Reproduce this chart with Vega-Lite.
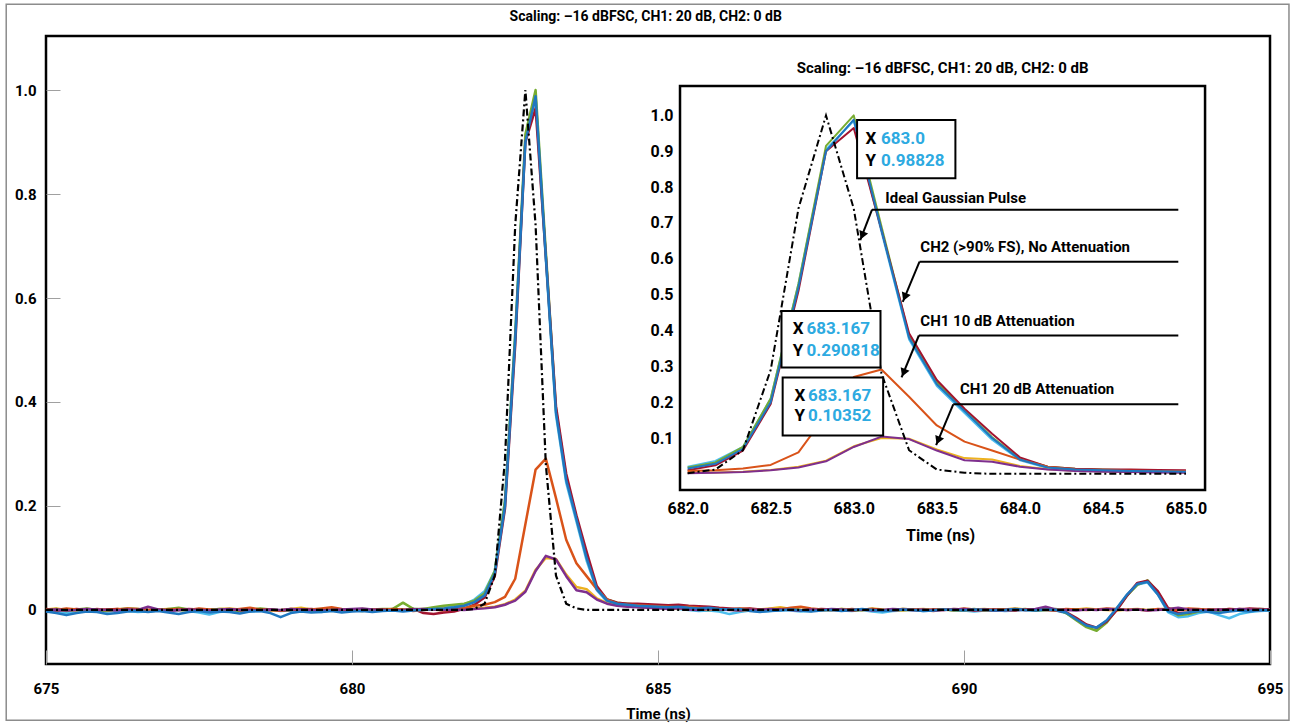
{
"$schema":"https://vega.github.io/schema/vega-lite/v6.json",
"width":1224,"height":628,
"autosize":{"type":"none"},
"padding":{"left":46,"top":36,"right":23,"bottom":61},
"background":"white",
"datasets":{"sig":[
{"t":675,"b":-0.003,"g":0,"r":0.001,"c":-0.002,"o":0.002,"p":0,"y":0.001,"i":0},
{"t":675.167,"b":-0.006,"g":0.002,"r":-0.001,"c":-0.004,"o":0,"p":0.001,"y":0.003,"i":0},
{"t":675.333,"b":-0.01,"g":-0.002,"r":0,"c":-0.006,"o":0.003,"p":-0.001,"y":0,"i":0},
{"t":675.5,"b":-0.006,"g":0.001,"r":0.002,"c":-0.003,"o":0.001,"p":0,"y":-0.001,"i":0},
{"t":675.667,"b":-0.003,"g":0.003,"r":0,"c":-0.001,"o":-0.001,"p":0.002,"y":0.002,"i":0},
{"t":675.833,"b":-0.004,"g":0,"r":-0.001,"c":-0.002,"o":0.002,"p":0.001,"y":0.001,"i":0},
{"t":676,"b":-0.008,"g":-0.002,"r":0.001,"c":-0.003,"o":0,"p":0,"y":0,"i":0},
{"t":676.167,"b":-0.006,"g":0.001,"r":0.002,"c":-0.001,"o":0.001,"p":-0.001,"y":0.002,"i":0},
{"t":676.333,"b":-0.003,"g":0.003,"r":0,"c":-0.002,"o":0.003,"p":0.001,"y":0.001,"i":0},
{"t":676.5,"b":-0.002,"g":0.002,"r":-0.001,"c":-0.004,"o":0.002,"p":0,"y":-0.001,"i":0},
{"t":676.667,"b":-0.004,"g":0,"r":0,"c":-0.003,"o":0,"p":0.006,"y":0,"i":0},
{"t":676.833,"b":-0.002,"g":-0.001,"r":0.001,"c":-0.001,"o":-0.001,"p":0.001,"y":0.001,"i":0},
{"t":677,"b":-0.005,"g":0.002,"r":-0.001,"c":-0.002,"o":0.001,"p":-0.001,"y":0.002,"i":0},
{"t":677.167,"b":-0.008,"g":0.004,"r":0,"c":0,"o":0.002,"p":0,"y":0,"i":0},
{"t":677.333,"b":-0.004,"g":0.001,"r":0.002,"c":-0.002,"o":0,"p":0.001,"y":-0.001,"i":0},
{"t":677.5,"b":-0.002,"g":-0.001,"r":0.001,"c":-0.005,"o":0.003,"p":0,"y":0.001,"i":0},
{"t":677.667,"b":-0.005,"g":0,"r":0,"c":-0.009,"o":0.001,"p":-0.001,"y":0,"i":0},
{"t":677.833,"b":-0.003,"g":0.002,"r":-0.001,"c":-0.004,"o":-0.001,"p":0.001,"y":0.002,"i":0},
{"t":678,"b":-0.004,"g":0.001,"r":0.001,"c":-0.002,"o":0,"p":0.002,"y":0.003,"i":0},
{"t":678.167,"b":-0.007,"g":-0.002,"r":0,"c":-0.001,"o":0.002,"p":0,"y":0.001,"i":0},
{"t":678.333,"b":-0.003,"g":0,"r":-0.002,"c":-0.003,"o":0.004,"p":0,"y":0,"i":0},
{"t":678.5,"b":-0.002,"g":0.003,"r":0,"c":-0.002,"o":0.001,"p":-0.001,"y":0.001,"i":0},
{"t":678.667,"b":-0.006,"g":0.001,"r":0.001,"c":0,"o":0,"p":0.001,"y":-0.001,"i":0},
{"t":678.833,"b":-0.014,"g":-0.001,"r":-0.001,"c":-0.002,"o":-0.001,"p":0,"y":0,"i":0},
{"t":679,"b":-0.006,"g":0,"r":0,"c":-0.001,"o":0.002,"p":0.002,"y":0.002,"i":0},
{"t":679.167,"b":-0.003,"g":0.002,"r":0.001,"c":-0.003,"o":0,"p":0.001,"y":0.004,"i":0},
{"t":679.333,"b":-0.005,"g":-0.001,"r":0.002,"c":-0.002,"o":0.001,"p":0,"y":0.001,"i":0},
{"t":679.5,"b":-0.004,"g":0,"r":0,"c":-0.004,"o":0.003,"p":-0.001,"y":0,"i":0},
{"t":679.667,"b":-0.002,"g":0.003,"r":-0.001,"c":-0.001,"o":0.005,"p":0,"y":-0.001,"i":0},
{"t":679.833,"b":-0.005,"g":0.001,"r":0.001,"c":-0.002,"o":0.002,"p":0.001,"y":0.001,"i":0},
{"t":680,"b":-0.003,"g":0,"r":0,"c":0,"o":0,"p":0.002,"y":0,"i":0},
{"t":680.167,"b":-0.002,"g":-0.002,"r":-0.001,"c":-0.001,"o":-0.001,"p":0.003,"y":0.002,"i":0},
{"t":680.333,"b":-0.004,"g":0.001,"r":0,"c":-0.002,"o":0.001,"p":0.001,"y":0.001,"i":0},
{"t":680.5,"b":-0.002,"g":0.002,"r":0.001,"c":-0.001,"o":0,"p":0,"y":-0.001,"i":0},
{"t":680.667,"b":-0.001,"g":0.002,"r":0,"c":0,"o":0.002,"p":-0.001,"y":0,"i":0},
{"t":680.833,"b":-0.003,"g":0.014,"r":-0.001,"c":0.001,"o":0.001,"p":0,"y":0.001,"i":0},
{"t":681,"b":-0.001,"g":0.002,"r":0.002,"c":0.002,"o":-0.002,"p":0.001,"y":0,"i":0},
{"t":681.167,"b":0,"g":0.002,"r":-0.006,"c":0.001,"o":0,"p":0.002,"y":0.002,"i":0},
{"t":681.333,"b":0.002,"g":0.005,"r":-0.008,"c":0.003,"o":0.001,"p":0.001,"y":0.001,"i":0},
{"t":681.5,"b":0.003,"g":0.008,"r":-0.005,"c":0.004,"o":-0.001,"p":0,"y":0.003,"i":0},
{"t":681.667,"b":0.005,"g":0.01,"r":-0.003,"c":0.006,"o":0.002,"p":0.001,"y":0.001,"i":0},
{"t":681.833,"b":0.008,"g":0.012,"r":0.002,"c":0.01,"o":0.004,"p":0,"y":0.002,"i":0},
{"t":682,"b":0.015,"g":0.018,"r":0.01,"c":0.02,"o":0.008,"p":0.002,"y":0.003,"i":0.002},
{"t":682.167,"b":0.028,"g":0.032,"r":0.024,"c":0.036,"o":0.01,"p":0.003,"y":0.004,"i":0.012},
{"t":682.333,"b":0.07,"g":0.075,"r":0.065,"c":0.075,"o":0.015,"p":0.005,"y":0.006,"i":0.066},
{"t":682.5,"b":0.2,"g":0.21,"r":0.195,"c":0.21,"o":0.025,"p":0.01,"y":0.011,"i":0.29},
{"t":682.667,"b":0.52,"g":0.53,"r":0.51,"c":0.53,"o":0.06,"p":0.018,"y":0.02,"i":0.74},
{"t":682.833,"b":0.9,"g":0.915,"r":0.9,"c":0.905,"o":0.165,"p":0.035,"y":0.037,"i":1},
{"t":683,"b":0.988,"g":1,"r":0.965,"c":0.985,"o":0.27,"p":0.075,"y":0.077,"i":0.74},
{"t":683.167,"b":0.68,"g":0.69,"r":0.68,"c":0.675,"o":0.291,"p":0.104,"y":0.1,"i":0.28},
{"t":683.333,"b":0.38,"g":0.385,"r":0.392,"c":0.375,"o":0.215,"p":0.097,"y":0.098,"i":0.066},
{"t":683.5,"b":0.25,"g":0.255,"r":0.262,"c":0.245,"o":0.135,"p":0.065,"y":0.068,"i":0.012},
{"t":683.667,"b":0.175,"g":0.178,"r":0.182,"c":0.17,"o":0.09,"p":0.038,"y":0.044,"i":0.003},
{"t":683.833,"b":0.1,"g":0.102,"r":0.112,"c":0.095,"o":0.065,"p":0.034,"y":0.04,"i":0},
{"t":684,"b":0.04,"g":0.042,"r":0.046,"c":0.038,"o":0.04,"p":0.02,"y":0.022,"i":0},
{"t":684.167,"b":0.018,"g":0.02,"r":0.02,"c":0.016,"o":0.02,"p":0.012,"y":0.013,"i":0},
{"t":684.333,"b":0.012,"g":0.014,"r":0.014,"c":0.012,"o":0.012,"p":0.008,"y":0.009,"i":0},
{"t":684.5,"b":0.01,"g":0.012,"r":0.012,"c":0.01,"o":0.01,"p":0.006,"y":0.007,"i":0},
{"t":684.667,"b":0.008,"g":0.01,"r":0.012,"c":0.008,"o":0.009,"p":0.005,"y":0.006,"i":0},
{"t":684.833,"b":0.007,"g":0.008,"r":0.011,"c":0.006,"o":0.008,"p":0.004,"y":0.005,"i":0},
{"t":685,"b":0.006,"g":0.006,"r":0.01,"c":0.005,"o":0.007,"p":0.003,"y":0.004,"i":0},
{"t":685.167,"b":0.005,"g":0.007,"r":0.009,"c":0.003,"o":0.006,"p":0.002,"y":0.003,"i":0},
{"t":685.333,"b":0.006,"g":0.005,"r":0.01,"c":0.002,"o":0.005,"p":0.003,"y":0.002,"i":0},
{"t":685.5,"b":0.004,"g":0.003,"r":0.008,"c":0,"o":0.006,"p":0.001,"y":0.004,"i":0},
{"t":685.667,"b":0.003,"g":0.004,"r":0.007,"c":-0.002,"o":0.004,"p":0,"y":0.001,"i":0},
{"t":685.833,"b":0.004,"g":0.002,"r":0.006,"c":-0.001,"o":0.003,"p":0.002,"y":0,"i":0},
{"t":686,"b":0.002,"g":0,"r":0.004,"c":-0.003,"o":0.002,"p":0.001,"y":0.002,"i":0},
{"t":686.167,"b":0.001,"g":0.001,"r":0.003,"c":-0.008,"o":0.001,"p":0,"y":0.001,"i":0},
{"t":686.333,"b":0.002,"g":-0.001,"r":0.002,"c":-0.004,"o":0.003,"p":-0.001,"y":0,"i":0},
{"t":686.5,"b":-0.002,"g":0.002,"r":0.003,"c":-0.001,"o":0.002,"p":0.001,"y":-0.001,"i":0},
{"t":686.667,"b":-0.004,"g":0,"r":0.001,"c":-0.003,"o":0,"p":0,"y":0.001,"i":0},
{"t":686.833,"b":-0.002,"g":-0.001,"r":0,"c":-0.002,"o":-0.001,"p":0.002,"y":0.003,"i":0},
{"t":687,"b":-0.001,"g":0.001,"r":0.002,"c":0,"o":0.001,"p":0.001,"y":0.005,"i":0},
{"t":687.167,"b":0.001,"g":0.003,"r":0.001,"c":-0.001,"o":0.004,"p":0,"y":0.002,"i":0},
{"t":687.333,"b":-0.001,"g":0,"r":-0.001,"c":-0.003,"o":0.006,"p":-0.001,"y":0,"i":0},
{"t":687.5,"b":-0.003,"g":-0.002,"r":0,"c":-0.002,"o":0.003,"p":0.001,"y":0.001,"i":0},
{"t":687.667,"b":-0.001,"g":0.001,"r":0.002,"c":0,"o":0.001,"p":0,"y":-0.001,"i":0},
{"t":687.833,"b":0,"g":0,"r":0.001,"c":0.001,"o":0,"p":0.002,"y":0,"i":0},
{"t":688,"b":-0.002,"g":0.002,"r":0,"c":-0.001,"o":-0.001,"p":0.001,"y":0.002,"i":0},
{"t":688.167,"b":0,"g":-0.001,"r":-0.001,"c":-0.002,"o":0.002,"p":0,"y":0.001,"i":0},
{"t":688.333,"b":0.002,"g":0,"r":0.001,"c":0,"o":0,"p":0.001,"y":0,"i":0},
{"t":688.5,"b":0,"g":0.001,"r":0.002,"c":-0.003,"o":0.001,"p":-0.001,"y":0.003,"i":0},
{"t":688.667,"b":-0.002,"g":-0.001,"r":0,"c":-0.005,"o":-0.001,"p":0,"y":0.001,"i":0},
{"t":688.833,"b":-0.001,"g":0,"r":-0.001,"c":-0.002,"o":0,"p":0.002,"y":0,"i":0},
{"t":689,"b":0.001,"g":0.002,"r":0.001,"c":-0.001,"o":0.002,"p":0.001,"y":-0.001,"i":0},
{"t":689.167,"b":0,"g":0.001,"r":0,"c":0,"o":0.001,"p":0,"y":0.001,"i":0},
{"t":689.333,"b":-0.002,"g":-0.001,"r":-0.001,"c":-0.002,"o":0,"p":0.001,"y":0.002,"i":0},
{"t":689.5,"b":-0.001,"g":0,"r":0.001,"c":-0.001,"o":-0.002,"p":-0.001,"y":0,"i":0},
{"t":689.667,"b":0.001,"g":0.001,"r":0,"c":0.001,"o":0.001,"p":0,"y":0.001,"i":0},
{"t":689.833,"b":0,"g":-0.001,"r":0.002,"c":0,"o":0,"p":0.001,"y":0,"i":0},
{"t":690,"b":-0.001,"g":0,"r":0.001,"c":-0.001,"o":0.003,"p":0.002,"y":-0.001,"i":0},
{"t":690.167,"b":0.001,"g":0.002,"r":-0.001,"c":-0.003,"o":0.001,"p":0,"y":0.001,"i":0},
{"t":690.333,"b":0,"g":-0.001,"r":0,"c":-0.001,"o":0,"p":0.001,"y":0.002,"i":0},
{"t":690.5,"b":-0.001,"g":0,"r":0.001,"c":0,"o":-0.001,"p":-0.001,"y":0,"i":0},
{"t":690.667,"b":0,"g":0.001,"r":0,"c":-0.002,"o":0.001,"p":0,"y":0.001,"i":0},
{"t":690.833,"b":0.002,"g":0,"r":-0.001,"c":-0.001,"o":0.002,"p":0.001,"y":0.003,"i":0},
{"t":691,"b":0,"g":0.002,"r":0.001,"c":0,"o":0,"p":0,"y":0.001,"i":0},
{"t":691.167,"b":-0.001,"g":-0.001,"r":0,"c":-0.001,"o":0.001,"p":0.002,"y":0,"i":0},
{"t":691.333,"b":0.001,"g":0,"r":0.001,"c":0,"o":0,"p":0.006,"y":0.002,"i":0},
{"t":691.5,"b":0,"g":0.002,"r":-0.001,"c":-0.001,"o":-0.001,"p":0.001,"y":0.001,"i":0},
{"t":691.667,"b":-0.005,"g":-0.006,"r":-0.004,"c":-0.006,"o":0.002,"p":0,"y":0,"i":0},
{"t":691.833,"b":-0.018,"g":-0.02,"r":-0.015,"c":-0.017,"o":0.001,"p":-0.001,"y":0.001,"i":0},
{"t":692,"b":-0.03,"g":-0.033,"r":-0.028,"c":-0.029,"o":0,"p":0.001,"y":0.003,"i":0},
{"t":692.167,"b":-0.034,"g":-0.04,"r":-0.034,"c":-0.035,"o":0.001,"p":0,"y":0.001,"i":0},
{"t":692.333,"b":-0.02,"g":-0.024,"r":-0.022,"c":-0.021,"o":0.003,"p":0.002,"y":0,"i":0},
{"t":692.5,"b":0.004,"g":0.002,"r":0,"c":0.003,"o":0.002,"p":0.001,"y":-0.001,"i":0},
{"t":692.667,"b":0.03,"g":0.028,"r":0.028,"c":0.029,"o":0,"p":0,"y":0.001,"i":0},
{"t":692.833,"b":0.05,"g":0.048,"r":0.052,"c":0.049,"o":0.001,"p":0.001,"y":0.002,"i":0},
{"t":693,"b":0.054,"g":0.057,"r":0.056,"c":0.053,"o":-0.001,"p":-0.001,"y":0,"i":0},
{"t":693.167,"b":0.03,"g":0.034,"r":0.036,"c":0.03,"o":0.002,"p":0,"y":0.001,"i":0},
{"t":693.333,"b":-0.002,"g":0.002,"r":0.004,"c":-0.004,"o":0.001,"p":0.002,"y":0.003,"i":0},
{"t":693.5,"b":-0.008,"g":-0.01,"r":-0.006,"c":-0.014,"o":0,"p":0.004,"y":0.002,"i":0},
{"t":693.667,"b":-0.005,"g":-0.008,"r":-0.005,"c":-0.012,"o":0.003,"p":0.001,"y":0,"i":0},
{"t":693.833,"b":-0.002,"g":-0.003,"r":-0.001,"c":-0.006,"o":0.002,"p":0,"y":0.001,"i":0},
{"t":694,"b":-0.004,"g":0,"r":0.001,"c":-0.003,"o":0,"p":-0.001,"y":-0.001,"i":0},
{"t":694.167,"b":-0.006,"g":-0.002,"r":0,"c":-0.01,"o":0.001,"p":0.001,"y":0,"i":0},
{"t":694.333,"b":-0.003,"g":0.001,"r":0.002,"c":-0.016,"o":-0.001,"p":0,"y":0.002,"i":0},
{"t":694.5,"b":-0.001,"g":0,"r":0.001,"c":-0.008,"o":0.002,"p":0.002,"y":0.001,"i":0},
{"t":694.667,"b":-0.003,"g":-0.001,"r":0.003,"c":-0.004,"o":0.001,"p":0.001,"y":0,"i":0},
{"t":694.833,"b":0,"g":0.002,"r":0.002,"c":-0.002,"o":0,"p":0,"y":0.001,"i":0},
{"t":695,"b":-0.001,"g":0.001,"r":0.001,"c":-0.001,"o":0.001,"p":0.001,"y":0,"i":0}
]},
"layer":[
 {"layer":[
  {"data":{"name":"sig"},
   "transform":[{"fold":["c","y","g","r","o","p","b"],"as":["key","v"]}],
   "mark":{"type":"line","strokeWidth":2.5,"strokeJoin":"round"},
   "encoding":{
    "x":{"field":"t","type":"quantitative","scale":{"domain":[675,695],"nice":false,"zero":false},
     "axis":{"orient":"bottom","values":[675,680,685,690,695],"format":"d","labelFlush":false,"labelOverlap":false,"domain":false,"ticks":true,"tickSize":-14,"tickWidth":1,"tickColor":"#a0a0a0","labelPadding":31,"labelFont":"Roboto","labelFontSize":15,"title":"Time (ns)","titleFont":"Roboto","titleFontSize":15,"titlePadding":10}},
    "y":{"field":"v","type":"quantitative","scale":{"domain":[-0.104,1.104],"nice":false,"zero":false},
     "axis":{"orient":"left","values":[0,0.2,0.4,0.6,0.8,1],"labelExpr":"datum.value == 0 ? '0' : format(datum.value, '.1f')","domain":false,"ticks":true,"tickSize":-14,"tickWidth":1,"tickColor":"#a0a0a0","labelPadding":24,"labelFont":"Roboto","labelFontSize":15,"title":null}},
    "color":{"field":"key","type":"nominal","scale":{"domain":["c","y","g","r","o","p","b"],"range":["#4DBEEE","#EDB120","#77AC30","#A2142F","#D95319","#7E2F8E","#1F77C0"]},"legend":null}
   }},
  {"data":{"name":"sig"},
   "mark":{"type":"line","color":"black","strokeWidth":2.2,"strokeDash":[7,3,2,3]},
   "encoding":{"x":{"field":"t","type":"quantitative"},"y":{"field":"i","type":"quantitative"}}},
  {"data":{"values":[{"x1":674.35,"x2":695.31,"y1":-0.212,"y2":1.165}]},
   "mark":{"type":"rect","filled":false,"stroke":"#8c8c8c","strokeWidth":1.5},
   "encoding":{"x":{"field":"x1","type":"quantitative"},"x2":{"field":"x2"},"y":{"field":"y1","type":"quantitative"},"y2":{"field":"y2"}}},
  {"data":{"values":[{"x":684.8,"y":1.14,"s":"Scaling: –16 dBFSC, CH1: 20 dB, CH2: 0 dB"}]},
   "mark":{"type":"text","font":"Roboto","fontSize":14,"fontWeight":"bold","align":"center","baseline":"middle","color":"black"},
   "encoding":{"x":{"field":"x","type":"quantitative"},"y":{"field":"y","type":"quantitative"},"text":{"field":"s"}}}
 ]},
 {"layer":[
  {"data":{"values":[{"x1":681.954,"x2":685.115,"y1":-0.045,"y2":1.082}]},
   "mark":{"type":"rect","fill":"white","stroke":"black","strokeWidth":2.5},
   "encoding":{
    "x":{"field":"x1","type":"quantitative","scale":{"domain":[678.137,685.506],"nice":false,"zero":false},
     "axis":{"orient":"bottom","offset":-174,"values":[682,682.5,683,683.5,684,684.5,685],"format":".1f","labelFlush":false,"labelOverlap":false,"domain":false,"ticks":false,"labelPadding":10,"labelFontSize":16,"title":"Time (ns)","titleFontSize":16,"titleX":894,"titleY":37,"titleBaseline":"top"}},
    "x2":{"field":"x2"},
    "y":{"field":"y1","type":"quantitative","scale":{"domain":[-0.5304,1.2215],"nice":false,"zero":false},
     "axis":{"orient":"left","offset":-634,"values":[0.1,0.2,0.3,0.4,0.5,0.6,0.7,0.8,0.9,1.0],"format":".1f","domain":false,"ticks":false,"labelPadding":7,"labelFontSize":16,"title":null}},
    "y2":{"field":"y2"}
   }},
  {"data":{"name":"sig"},
   "transform":[{"filter":"datum.t >= 681.99 && datum.t <= 685.01"},{"fold":["c","y","g","r","o","p","b"],"as":["key","v"]}],
   "mark":{"type":"line","strokeWidth":2,"strokeJoin":"round"},
   "encoding":{"x":{"field":"t","type":"quantitative"},"y":{"field":"v","type":"quantitative"},"color":{"field":"key","type":"nominal","legend":null}}},
  {"data":{"name":"sig"},
   "transform":[{"filter":"datum.t >= 681.99 && datum.t <= 685.01"}],
   "mark":{"type":"line","color":"black","strokeWidth":2,"strokeDash":[7,3,2,3]},
   "encoding":{"x":{"field":"t","type":"quantitative"},"y":{"field":"i","type":"quantitative"}}},
  {"data":{"values":[
    {"x1":683.11,"y1":0.737,"x2":684.954,"y2":0.737},
    {"x1":683.11,"y1":0.737,"x2":683.039,"y2":0.652},
    {"x1":683.396,"y1":0.592,"x2":684.954,"y2":0.592},
    {"x1":683.396,"y1":0.592,"x2":683.295,"y2":0.48},
    {"x1":683.392,"y1":0.386,"x2":684.954,"y2":0.386},
    {"x1":683.392,"y1":0.386,"x2":683.288,"y2":0.269},
    {"x1":683.599,"y1":0.194,"x2":684.954,"y2":0.194},
    {"x1":683.599,"y1":0.194,"x2":683.496,"y2":0.08}]},
   "mark":{"type":"rule","color":"black","strokeWidth":2},
   "encoding":{"x":{"field":"x1","type":"quantitative"},"y":{"field":"y1","type":"quantitative"},"x2":{"field":"x2"},"y2":{"field":"y2"}}},
  {"data":{"values":[{"x":683.051,"y":0.665},{"x":683.307,"y":0.493},{"x":683.3,"y":0.282},{"x":683.508,"y":0.093}]},
   "mark":{"type":"point","shape":"triangle-up","filled":true,"color":"black","opacity":1,"size":90,"angle":202},
   "encoding":{"x":{"field":"x","type":"quantitative"},"y":{"field":"y","type":"quantitative"}}},
  {"data":{"values":[
    {"x":683.19,"y":0.77,"s":"Ideal Gaussian Pulse"},
    {"x":683.401,"y":0.633,"s":"CH2 (>90% FS), No Attenuation"},
    {"x":683.401,"y":0.426,"s":"CH1  10 dB Attenuation"},
    {"x":683.639,"y":0.237,"s":"CH1  20 dB Attenuation"}]},
   "mark":{"type":"text","fontSize":15,"fontWeight":"bold","align":"left","baseline":"middle","color":"black"},
   "encoding":{"x":{"field":"x","type":"quantitative"},"y":{"field":"y","type":"quantitative"},"text":{"field":"s"}}},
  {"data":{"values":[
    {"x1":683.02,"x2":683.612,"y1":0.825,"y2":0.987},
    {"x1":682.565,"x2":683.161,"y1":0.297,"y2":0.454},
    {"x1":682.572,"x2":683.177,"y1":0.107,"y2":0.269}]},
   "mark":{"type":"rect","fill":"white","stroke":"black","strokeWidth":2},
   "encoding":{"x":{"field":"x1","type":"quantitative"},"x2":{"field":"x2"},"y":{"field":"y1","type":"quantitative"},"y2":{"field":"y2"}}},
  {"data":{"values":[
    {"x":683.07,"y":0.933,"s":"X"},{"x":683.07,"y":0.873,"s":"Y"},
    {"x":682.633,"y":0.403,"s":"X"},{"x":682.633,"y":0.343,"s":"Y"},
    {"x":682.643,"y":0.218,"s":"X"},{"x":682.643,"y":0.161,"s":"Y"}]},
   "mark":{"type":"text","fontSize":17,"fontWeight":"bold","align":"left","baseline":"middle","color":"black"},
   "encoding":{"x":{"field":"x","type":"quantitative"},"y":{"field":"y","type":"quantitative"},"text":{"field":"s"}}},
  {"data":{"values":[
    {"x":683.164,"y":0.933,"s":"683.0"},{"x":683.164,"y":0.873,"s":"0.98828"},
    {"x":682.716,"y":0.403,"s":"683.167"},{"x":682.716,"y":0.343,"s":"0.290818"},
    {"x":682.724,"y":0.218,"s":"683.167"},{"x":682.724,"y":0.161,"s":"0.10352"}]},
   "mark":{"type":"text","fontSize":17,"fontWeight":"bold","align":"left","baseline":"middle","color":"#2DAAE1"},
   "encoding":{"x":{"field":"x","type":"quantitative"},"y":{"field":"y","type":"quantitative"},"text":{"field":"s"}}},
  {"data":{"values":[{"x":683.535,"y":1.132,"s":"Scaling: –16 dBFSC, CH1: 20 dB, CH2: 0 dB"}]},
   "mark":{"type":"text","fontSize":15,"fontWeight":"bold","align":"center","baseline":"middle","color":"black"},
   "encoding":{"x":{"field":"x","type":"quantitative"},"y":{"field":"y","type":"quantitative"},"text":{"field":"s"}}}
 ]}
],
"resolve":{"scale":{"x":"independent","y":"independent"},"axis":{"x":"independent","y":"independent"}},
"config":{
 "view":{"stroke":"black","strokeWidth":2.5},
 "font":"Roboto",
 "axis":{"grid":false,"labelColor":"black","titleColor":"black","labelFontWeight":"bold","titleFontWeight":"bold"}
}
}
